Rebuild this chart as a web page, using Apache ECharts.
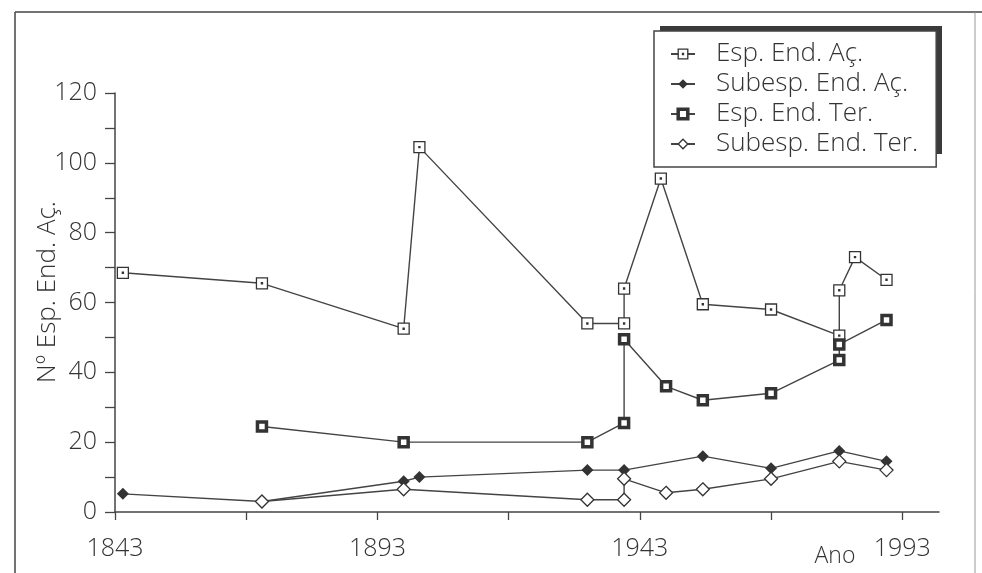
<!DOCTYPE html>
<html>
<head>
<meta charset="utf-8">
<script src="https://cdn.jsdelivr.net/npm/echarts@6/dist/echarts.min.js"></script>
<style>
html,body{margin:0;padding:0;background:#fff;}
#chart{width:982px;height:573px;}
</style>
</head>
<body>
<div id="chart"></div>
<script>
// ---- data ----
const seriesNames = ['Esp. End. Aç.', 'Subesp. End. Aç.', 'Esp. End. Ter.', 'Subesp. End. Ter.'];

const espAcYears  = [1844.5, 1871, 1898, 1901, 1933, 1940, 1940, 1947, 1955, 1968, 1981, 1981, 1984, 1990];
const espAcValues = [68.5, 65.5, 52.5, 104.5, 54, 54, 64, 95.5, 59.5, 58, 50.5, 63.5, 73, 66.5];

const subAcYears  = [1844.5, 1871, 1898, 1901, 1933, 1940, 1955, 1968, 1981, 1990];
const subAcValues = [5.2, 3, 8.8, 10, 12, 12, 16, 12.5, 17.5, 14.5];

const espTerYears  = [1871, 1898, 1933, 1940, 1940, 1948, 1955, 1968, 1981, 1981, 1990];
const espTerValues = [24.5, 20, 20, 25.5, 49.5, 36, 32, 34, 43.5, 48, 55];

const subTerYears  = [1871, 1898, 1933, 1940, 1940, 1948, 1955, 1968, 1981, 1990];
const subTerValues = [3, 6.5, 3.5, 3.5, 9.5, 5.5, 6.5, 9.5, 14.5, 12];

const xTickValues  = [1843, 1868, 1893, 1918, 1943, 1968, 1993];
const xLabelValues = [1843, 1893, 1943, 1993];
const yAxisTitle = 'Nº Esp. End. Aç.';
const xAxisTitle = 'Ano';

// ---- chart ----
const zip = (xs, ys) => xs.map((x, i) => [x, ys[i]]);
const FONT = '"Open Sans", "DejaVu Sans", sans-serif';
const INK = '#333';
const LINE = '#444';

const styles = [
  { symbol: 'path://M0,0H20V20H0ZM9,9H11V11H9Z', symbolSize: 11, itemStyle: { color: '#fff', borderColor: INK, borderWidth: 1.3 } },
  { symbol: 'diamond', symbolSize: 12, itemStyle: { color: INK, borderColor: INK, borderWidth: 0 } },
  { symbol: 'rect', symbolSize: 9, itemStyle: { color: '#fff', borderColor: INK, borderWidth: 3.5 } },
  { symbol: 'diamond', symbolSize: 13, itemStyle: { color: '#fff', borderColor: INK, borderWidth: 1.3 } }
];
const seriesData = [
  zip(espAcYears, espAcValues),
  zip(subAcYears, subAcValues),
  zip(espTerYears, espTerValues),
  zip(subTerYears, subTerValues)
];

const chart = echarts.init(document.getElementById('chart'), null, { renderer: 'canvas' });
chart.setOption({
  backgroundColor: '#fff',
  animation: false,
  textStyle: { fontFamily: FONT },
  grid: { left: 115, right: 43, top: 93, bottom: 61, containLabel: false },
  xAxis: {
    type: 'value', min: 1843, max: 2000,
    axisLine: { show: true, lineStyle: { color: LINE, width: 1.5 } },
    axisTick: { show: true, length: 8, customValues: xTickValues, lineStyle: { color: LINE, width: 1.3 } },
    axisLabel: { customValues: xLabelValues, margin: 24, fontSize: 25, fontWeight: 300, color: INK, fontFamily: FONT,
      formatter: v => String(v) },
    splitLine: { show: false }
  },
  yAxis: {
    type: 'value', min: 0, max: 120, interval: 10,
    axisLine: { show: true, lineStyle: { color: LINE, width: 1.5 } },
    axisTick: { show: true, length: 10, lineStyle: { color: LINE, width: 1.3 } },
    axisLabel: { margin: 18, fontSize: 25, fontWeight: 300, color: INK, fontFamily: FONT,
      formatter: v => (v % 20 === 0 ? String(v) : '') },
    splitLine: { show: false }
  },
  legend: {
    data: seriesNames.map((n, i) => ({ name: n, itemStyle: Object.assign({}, styles[i].itemStyle) })),
    orient: 'vertical',
    left: 654, top: 31,
    padding: [8, 18, 8, 16],
    itemWidth: 24, itemHeight: 12, itemGap: 0,
    textStyle: { fontSize: 26, fontWeight: 300, lineHeight: 30, color: INK, fontFamily: FONT, padding: [0, 0, 0, 16] },
    backgroundColor: '#fff',
    borderColor: LINE, borderWidth: 1.5, borderRadius: 0,
    selectedMode: false,
    z: 5
  },
  series: seriesNames.map((n, i) => ({
    type: 'line',
    name: n,
    data: seriesData[i],
    symbol: styles[i].symbol,
    symbolSize: styles[i].symbolSize,
    itemStyle: styles[i].itemStyle,
    lineStyle: { color: LINE, width: 1.4 },
    emphasis: { disabled: true },
    animation: false,
    z: 3
  })),
  graphic: [
    { type: 'rect', z: 1, shape: { x: 660, y: 26, width: 282, height: 128 }, style: { fill: '#3a3a3a' }, silent: true },
    { type: 'line', shape: { x1: 15, y1: 12, x2: 15, y2: 573 }, style: { stroke: LINE, lineWidth: 1.5 }, silent: true },
    { type: 'line', shape: { x1: 15, y1: 12, x2: 982, y2: 12 }, style: { stroke: LINE, lineWidth: 1.5 }, silent: true },
    { type: 'line', shape: { x1: 975, y1: 12, x2: 975, y2: 573 }, style: { stroke: '#999', lineWidth: 1 }, silent: true },
    { type: 'text', x: 48, y: 292, rotation: Math.PI / 2,
      style: { text: yAxisTitle, fontSize: 26, fontWeight: 300, fill: INK, fontFamily: FONT, align: 'center', verticalAlign: 'middle' }, silent: true },
    { type: 'text', x: 835, y: 556,
      style: { text: xAxisTitle, fontSize: 23, fontWeight: 300, fill: INK, fontFamily: FONT, align: 'center', verticalAlign: 'middle' }, silent: true }
  ]
});
</script>
</body>
</html>
